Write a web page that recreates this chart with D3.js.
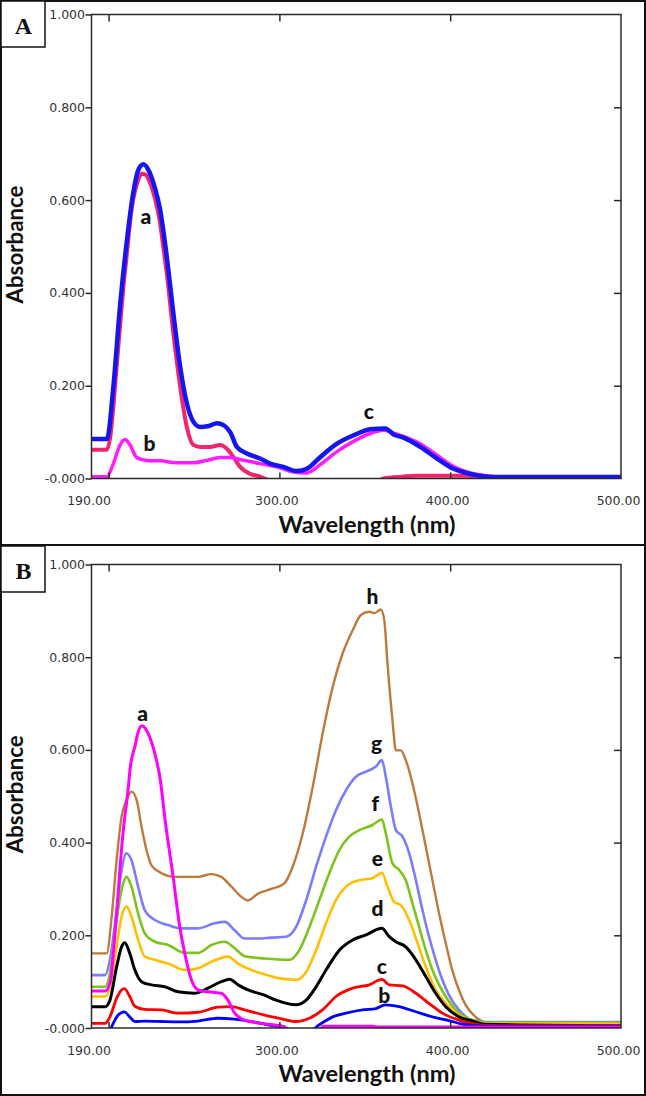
<!DOCTYPE html>
<html>
<head>
<meta charset="utf-8">
<script src="https://cdn.jsdelivr.net/npm/d3@7"></script>
<style>
  html, body { margin: 0; padding: 0; background: #fff; }
  svg { display: block; }
</style>
</head>
<body>
<svg id="chart" width="646" height="1096"></svg>
<script>
// ---------------- DATA ----------------
// x-axis tick marks and tick labels (nm)
const xTickMarks = [200, 300, 400];
const xTickLabels = [190, 300, 400, 500];
// y-axis ticks (absorbance) and their printed labels
const yTicks = [0, 0.2, 0.4, 0.6, 0.8, 1.0];
const yTickLabels = ["-0.000", "0.200", "0.400", "0.600", "0.800", "1.000"];

// Panel A spectra: [wavelength nm, absorbance]
const A_a = [[190,0.062],[199,0.062],[201,0.09],[202.8,0.155],[204.7,0.24],[206.7,0.328],[208.6,0.41],[210.6,0.48],[212.5,0.55],[214.5,0.603],[217,0.64],[219.4,0.657],[221.5,0.655],[223.3,0.646],[225.2,0.628],[227.2,0.603],[230.1,0.552],[232,0.5],[234,0.444],[237.9,0.314],[241.9,0.198],[245.8,0.111],[249.7,0.072],[253.6,0.068],[259.4,0.068],[265.3,0.072],[269.2,0.064],[273.1,0.046],[277,0.025],[282.8,0.010],[288.7,0.004],[293.6,-0.004],[300,-0.012],[355,-0.012],[361,0.0],[372,0.004],[380,0.006],[410,0.006],[420,0.003],[500,0.002]];
const A_b = [[190,0.004],[199,0.004],[202.8,0.032],[206.7,0.072],[209.6,0.084],[212.6,0.072],[216.5,0.045],[222.3,0.039],[230.1,0.038],[239.9,0.034],[249.7,0.034],[257.5,0.039],[265.3,0.045],[271.2,0.045],[277,0.041],[288.7,0.032],[298.5,0.025],[308.3,0.014],[316.1,0.012],[323.9,0.03],[333.7,0.058],[343.4,0.080],[353.2,0.097],[361,0.104],[366,0.099],[372.7,0.091],[382.5,0.075],[392.3,0.050],[402,0.026],[411.8,0.012],[421.6,0.006],[430,0.003],[500,0.003]];
const A_c = [[190,0.085],[199,0.085],[202.8,0.198],[206.7,0.372],[210.6,0.509],[214.5,0.617],[217.4,0.665],[220.4,0.677],[223.3,0.665],[227.2,0.625],[230.1,0.581],[234,0.48],[237.9,0.357],[241.9,0.241],[245.8,0.162],[249.7,0.122],[253.6,0.111],[258.5,0.113],[263.4,0.119],[267.3,0.115],[271.2,0.100],[275.1,0.068],[281,0.054],[288.7,0.043],[294.6,0.032],[302.4,0.025],[310.2,0.016],[316.1,0.021],[323.9,0.046],[333.7,0.075],[343.4,0.093],[353.2,0.106],[362,0.108],[366.9,0.095],[372.7,0.088],[382.5,0.068],[392.3,0.043],[402,0.021],[411.8,0.010],[421.6,0.004],[427,0.003],[500,0.003]];

// Panel B spectra
const B_h = [[190,0.161],[198.9,0.161],[201.8,0.24],[204.7,0.362],[207.6,0.456],[210.5,0.492],[213.4,0.510],[216.4,0.492],[219.3,0.434],[222.2,0.384],[225.1,0.351],[231,0.334],[238.8,0.326],[252.4,0.326],[260.2,0.332],[266,0.326],[271.9,0.305],[277.7,0.283],[281.6,0.275],[287.5,0.290],[296.1,0.301],[302.9,0.312],[307.8,0.348],[313.7,0.420],[319.5,0.520],[325.3,0.635],[331.2,0.736],[337,0.808],[342.9,0.858],[347.7,0.891],[352.6,0.898],[355.5,0.895],[359.4,0.903],[361.4,0.880],[363.3,0.786],[366.2,0.664],[368.2,0.599],[371.1,0.599],[374,0.578],[377.9,0.528],[381.8,0.463],[385.7,0.391],[389.6,0.319],[393.5,0.247],[397.4,0.183],[401.2,0.125],[405.1,0.082],[409,0.050],[414.8,0.024],[422.6,0.010],[430,0.008],[500,0.008]];
const B_g = [[190,0.114],[198,0.114],[200.8,0.147],[204.7,0.254],[207.6,0.341],[210.5,0.377],[213.4,0.362],[217.3,0.305],[221.2,0.254],[227.1,0.233],[234.8,0.222],[242.6,0.215],[252.4,0.215],[262.1,0.226],[268,0.229],[273.8,0.211],[279.7,0.193],[287.5,0.193],[295.2,0.195],[304,0.197],[309.8,0.218],[315.7,0.276],[321.5,0.348],[327.3,0.413],[333.1,0.470],[339,0.513],[344.8,0.542],[350.7,0.553],[356.5,0.564],[360,0.578],[362.3,0.542],[365.3,0.477],[368.2,0.427],[372.1,0.413],[376,0.377],[379.9,0.319],[383.8,0.254],[387.6,0.197],[391.5,0.147],[395.4,0.104],[399.3,0.071],[405.1,0.039],[412.9,0.017],[420.7,0.013],[500,0.013]];
const B_f = [[190,0.089],[198,0.089],[200.8,0.118],[204.7,0.233],[207.6,0.298],[210.5,0.326],[213.4,0.305],[217.3,0.247],[221.2,0.204],[227.1,0.186],[234.8,0.179],[244.6,0.162],[252.4,0.162],[260.2,0.179],[268,0.186],[273.8,0.172],[279.7,0.155],[291.3,0.150],[305.9,0.147],[311.7,0.168],[317.6,0.218],[323.4,0.276],[329.2,0.334],[335.1,0.384],[340.9,0.413],[346.8,0.427],[354.5,0.438],[360,0.450],[362.3,0.420],[366.2,0.355],[370.1,0.341],[374,0.319],[377.9,0.269],[381.8,0.218],[385.7,0.168],[389.6,0.125],[393.5,0.093],[397.4,0.068],[403.2,0.039],[411,0.019],[420.7,0.012],[500,0.011]];
const B_e = [[190,0.068],[198,0.068],[200.8,0.089],[204.7,0.175],[207.6,0.240],[210.5,0.262],[213.4,0.240],[217.3,0.190],[221.2,0.154],[227.1,0.147],[234.8,0.139],[244.6,0.125],[252.4,0.129],[260.2,0.143],[269.9,0.154],[275.8,0.139],[283.6,0.125],[293.3,0.114],[300.1,0.107],[309.8,0.104],[315.7,0.121],[321.5,0.168],[327.3,0.226],[333.1,0.276],[339,0.305],[346.8,0.319],[354.5,0.323],[360,0.335],[363.3,0.305],[367.2,0.272],[371.1,0.265],[376,0.233],[380.9,0.183],[385.7,0.132],[391.5,0.082],[397.4,0.053],[405.1,0.028],[412.9,0.015],[420,0.010],[500,0.009]];
const B_d = [[190,0.046],[198,0.046],[200.8,0.060],[204.7,0.132],[207.6,0.175],[209.5,0.184],[212.4,0.161],[215.4,0.125],[219.3,0.100],[225.1,0.093],[232.9,0.089],[240.7,0.078],[250.4,0.075],[258.2,0.086],[266,0.100],[270.9,0.105],[275.8,0.093],[281.6,0.082],[291.3,0.071],[298.1,0.060],[309.8,0.050],[315.7,0.060],[321.5,0.089],[327.3,0.125],[335.1,0.168],[342.9,0.190],[350.7,0.201],[360,0.215],[364.3,0.197],[368.2,0.186],[374,0.175],[379.9,0.147],[385.7,0.111],[391.5,0.075],[397.4,0.046],[405.1,0.024],[412.9,0.015],[420,0.008],[500,0.005]];
const B_c = [[190,0.010],[198,0.010],[200.8,0.024],[204.7,0.064],[207.6,0.082],[209.2,0.085],[212.4,0.068],[215.4,0.047],[221.2,0.040],[231,0.039],[240.7,0.032],[252.4,0.034],[264.1,0.045],[271.9,0.046],[279.7,0.039],[291.3,0.028],[300.1,0.021],[309.8,0.014],[317.6,0.021],[325.3,0.039],[333.1,0.068],[342.9,0.086],[352.6,0.093],[360,0.105],[364.3,0.093],[372.1,0.091],[379.9,0.075],[387.6,0.053],[395.4,0.032],[405.1,0.017],[414.8,0.008],[425,0.005],[500,0.005]];
const B_b = [[190,-0.01],[200,-0.01],[202.7,0.010],[205.6,0.028],[209.2,0.035],[212.4,0.024],[215.4,0.014],[221.2,0.015],[231,0.014],[240.7,0.013],[252.4,0.015],[264.1,0.021],[273.8,0.019],[283.6,0.014],[293.3,0.007],[303,0.0],[308,-0.006],[318,-0.006],[323.4,0.007],[331.2,0.024],[339,0.032],[348.7,0.039],[356.5,0.042],[362,0.050],[370.1,0.046],[379.9,0.035],[389.6,0.024],[399.3,0.016],[409,0.007],[420,0.004],[500,0.004]];
const B_a = [[190,0.080],[198,0.080],[201,0.10],[203,0.17],[205,0.26],[207,0.36],[209,0.44],[211,0.50],[213,0.57],[215.4,0.607],[217.3,0.638],[219.3,0.652],[221.2,0.648],[223.2,0.635],[227.1,0.592],[230,0.542],[233.4,0.44],[237.8,0.326],[241.7,0.218],[244.6,0.161],[248.5,0.104],[252.4,0.082],[258.2,0.078],[266,0.075],[269.9,0.060],[273.8,0.032],[279.7,0.017],[289.4,0.010],[303,0.003],[306,-0.01],[322,-0.01],[326,0.004],[354,0.004],[358,0.002],[500,0.002]];

// curve labels: [text, wavelength, absorbance]
const A_labels = [["a",221.9,0.564],["b",223.9,0.075],["c",352.4,0.144]];
const B_labels = [["a",219.9,0.679],["h",354.5,0.930],["g",356.9,0.614],["f",356.1,0.485],["e",357.4,0.366],["d",357.4,0.258],["c",360,0.132],["b",361.4,0.069]];

// ---------------- DRAWING ----------------
const svg = d3.select("#chart");
const W = 646, H = 1096;
const left = 91.5, right = 621;
const x = d3.scaleLinear().domain([190, 500]).range([left, right]);

svg.append("rect").attr("x", 1).attr("y", 1).attr("width", W - 2).attr("height", H - 2)
  .attr("fill", "none").attr("stroke", "#111").attr("stroke-width", 2);
svg.append("line").attr("x1", 0).attr("x2", W).attr("y1", 545).attr("y2", 545)
  .attr("stroke", "#111").attr("stroke-width", 2);

function panel(id, top, bottom, letter, boxTop, series, labels) {
  const y = d3.scaleLinear().domain([0, 1]).range([bottom, top]);
  const g = svg.append("g");

  g.append("clipPath").attr("id", "clip" + id).append("rect")
    .attr("x", left).attr("y", top).attr("width", right - left).attr("height", bottom - top);

  const line = d3.line().x(d => x(d[0])).y(d => y(d[1])).curve(d3.curveMonotoneX);
  const lines = g.append("g").attr("clip-path", `url(#clip${id})`);
  series.forEach(s => {
    lines.append("path").datum(s.data).attr("d", line)
      .attr("fill", "none").attr("stroke", s.color).attr("stroke-width", s.w)
      .attr("stroke-linejoin", "round").attr("stroke-linecap", "round");
  });

  const axisColor = "#2a2a2a";
  const fmt = d => yTickLabels[yTicks.indexOf(d)];
  // left axis with labels
  const ax = g.append("g").attr("transform", `translate(${left},0)`)
    .call(d3.axisLeft(y).tickValues(yTicks).tickFormat(fmt).tickSize(6).tickPadding(0.5).tickSizeOuter(0));
  ax.select(".domain").remove();
  ax.selectAll("line").attr("stroke", axisColor).attr("stroke-width", 1.5);
  ax.selectAll("text").attr("font-family", "DejaVu Sans").attr("font-size", 12.5).attr("fill", "#333");
  // right inner ticks
  const ar = g.append("g").attr("transform", `translate(${right},0)`)
    .call(d3.axisLeft(y).tickValues(yTicks.slice(1, 5)).tickFormat("").tickSize(7));
  ar.select(".domain").remove();
  ar.selectAll("line").attr("stroke", axisColor).attr("stroke-width", 1.5);
  // top inner ticks
  const at = g.append("g").attr("transform", `translate(0,${top})`)
    .call(d3.axisBottom(x).tickValues(xTickMarks).tickFormat("").tickSize(7));
  at.select(".domain").remove();
  at.selectAll("line").attr("stroke", axisColor).attr("stroke-width", 1.5);
  // bottom inner ticks
  const ab = g.append("g").attr("transform", `translate(0,${bottom})`)
    .call(d3.axisTop(x).tickValues(xTickMarks).tickFormat("").tickSize(6));
  ab.select(".domain").remove();
  ab.selectAll("line").attr("stroke", axisColor).attr("stroke-width", 1.5);
  // bottom labels
  const abl = g.append("g").attr("transform", `translate(0,${bottom})`)
    .call(d3.axisBottom(x).tickValues(xTickLabels).tickFormat(d => d3.format(".2f")(d)).tickSize(0).tickPadding(18));
  abl.select(".domain").remove();
  abl.selectAll("text").attr("font-family", "DejaVu Sans").attr("font-size", 12.5).attr("fill", "#333").attr("dx", -3);

  // frame
  g.append("rect").attr("x", left).attr("y", top).attr("width", right - left).attr("height", bottom - top)
    .attr("fill", "none").attr("stroke", axisColor).attr("stroke-width", 1.5);

  // titles
  g.append("text").attr("x", 367).attr("y", bottom + 54).attr("text-anchor", "middle")
    .attr("font-family", "Lato").attr("font-weight", "bold").attr("font-size", 22)
    .attr("textLength", 177).attr("lengthAdjust", "spacingAndGlyphs").attr("fill", "#111")
    .text("Wavelength (nm)");
  g.append("text").attr("transform", `translate(23,${(top + bottom) / 2 - 2}) rotate(-90)`)
    .attr("text-anchor", "middle")
    .attr("font-family", "Lato").attr("font-weight", "bold").attr("font-size", 22)
    .attr("textLength", 118).attr("lengthAdjust", "spacingAndGlyphs").attr("fill", "#111")
    .text("Absorbance");

  // curve labels
  g.selectAll("text.lbl").data(labels).enter().append("text").attr("class", "lbl")
    .attr("x", d => x(d[1])).attr("y", d => y(d[2])).attr("dy", "0.35em")
    .attr("text-anchor", "middle").attr("font-family", "Lato").attr("font-weight", "900")
    .attr("font-size", 21).attr("fill", "#111").text(d => d[0]);

  // panel letter box
  g.append("rect").attr("x", 1).attr("y", boxTop).attr("width", 44).attr("height", 46)
    .attr("fill", "#fff").attr("stroke", "#111").attr("stroke-width", 1.5);
  g.append("text").attr("x", 23.5).attr("y", boxTop + 33).attr("text-anchor", "middle")
    .attr("font-family", "Liberation Serif").attr("font-weight", "bold").attr("font-size", 24)
    .attr("fill", "#111").text(letter);
}

panel("A", 14.5, 478.5, "A", 1, [
  { data: A_a, color: "#f2246e", w: 4 },
  { data: A_b, color: "#ff1dff", w: 3.5 },
  { data: A_c, color: "#1515f2", w: 4.5 }
], A_labels);

panel("B", 564.5, 1028, "B", 546, [
  { data: B_h, color: "#bd7a3c", w: 2.4 },
  { data: B_g, color: "#7c7cff", w: 2.6 },
  { data: B_f, color: "#7cc41c", w: 2.6 },
  { data: B_e, color: "#ffbf00", w: 2.6 },
  { data: B_d, color: "#000000", w: 3 },
  { data: B_c, color: "#ff0000", w: 2.8 },
  { data: B_b, color: "#0000ff", w: 2.8 },
  { data: B_a, color: "#ff00ff", w: 3 }
], B_labels);
</script>
</body>
</html>
